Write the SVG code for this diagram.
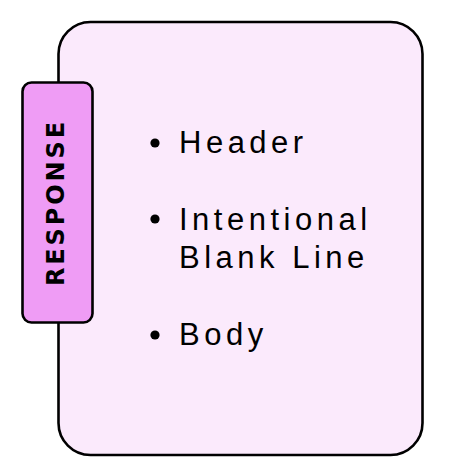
<svg xmlns="http://www.w3.org/2000/svg" width="462" height="476" viewBox="0 0 462 476">
<style>
.box{fill:#fbeafc;stroke:#000;stroke-width:2.6}
.tab{fill:#ef9cf5;stroke:#000;stroke-width:2.6}
.tabt{font-family:"DejaVu Sans","Liberation Sans",sans-serif;font-weight:bold;font-size:24px;letter-spacing:2.9px;fill:#000}
.item{font-family:"Liberation Sans",Arial,sans-serif;font-size:31px;letter-spacing:4.5px;fill:#000}
.dot{fill:#000}
</style>
<g id="response">
<rect class="box" x="58.5" y="22" width="364" height="433" rx="32"/>
</g>
<g id="response-tab">
<rect class="tab" x="22.5" y="82.5" width="70" height="240" rx="9"/>
<text class="tabt" transform="translate(64,204) rotate(-90)" x="1.5" y="0" text-anchor="middle">RESPONSE</text>
</g>
<g id="items">
<circle class="dot" cx="155" cy="143" r="4.6"/>
<text class="item" x="179" y="153">Header</text>
<circle class="dot" cx="155" cy="219" r="4.6"/>
<text class="item" x="179" y="230">Intentional</text>
<text class="item" x="179" y="268">Blank Line</text>
<circle class="dot" cx="155" cy="335" r="4.6"/>
<text class="item" x="179" y="345">Body</text>
</g>
<g id="connectors"></g>
</svg>
